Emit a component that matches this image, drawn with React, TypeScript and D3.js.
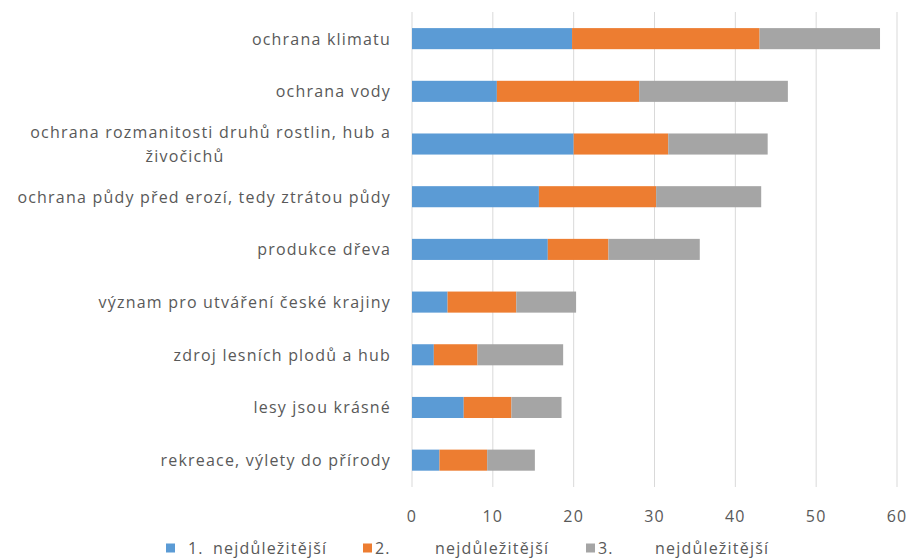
import React from "react";
import * as d3 from "d3";

// categories, top to bottom (multi-line labels split into lines)
const categories = [
  ["ochrana klimatu"],
  ["ochrana vody"],
  ["ochrana rozmanitosti druhů rostlin, hub a", "živočichů"],
  ["ochrana půdy před erozí, tedy ztrátou půdy"],
  ["produkce dřeva"],
  ["význam pro utváření české krajiny"],
  ["zdroj lesních plodů a hub"],
  ["lesy jsou krásné"],
  ["rekreace, výlety do přírody"],
];

const first = [19.8, 10.5, 20.0, 15.7, 16.8, 4.4, 2.7, 6.4, 3.4];
const second = [23.2, 17.6, 11.7, 14.5, 7.5, 8.5, 5.4, 5.9, 5.9];
const third = [14.9, 18.4, 12.3, 13.0, 11.3, 7.4, 10.6, 6.2, 5.9];

const seriesNames = ["1.", "2.", "3."];
const seriesSuffix = ["nejdůležitější", "nejdůležitější", "nejdůležitější"];
const colors = ["#5B9BD5", "#ED7D31", "#A5A5A5"];
const xTicks = [0, 10, 20, 30, 40, 50, 60];

const W = 909;
const H = 560;
const font = "'Open Sans', sans-serif";
const textColor = "#595959";
const fs = 16;
const ls = 1.2;

const App = () => {
  const keys = ["a", "b", "c"];
  const rows = categories.map((c, i) => ({ idx: i, a: first[i], b: second[i], c: third[i] }));
  const stacked = d3.stack<any>().keys(keys)(rows);

  const x = d3.scaleLinear().domain([0, 60]).range([412, 897]);
  const y = d3
    .scaleBand<number>()
    .domain(categories.map((_, i) => i))
    .range([12.3, 486.5])
    .paddingInner(0.6)
    .paddingOuter(0.3);

  // legend layout: square, number, label
  const squareX = [166, 363, 586];
  const numX = [188, 375, 598];
  const suffixX = [213, 435, 655];
  const legendY = 548;

  const textProps = { fontFamily: font, fontSize: fs, fill: textColor, letterSpacing: ls };

  return (
    <svg width={W} height={H} style={{ position: "absolute", left: 0, top: 0, background: "#fff" }}>
      {/* vertical gridlines */}
      {xTicks.map((t) => (
        <line key={t} x1={x(t)} x2={x(t)} y1={12} y2={487} stroke="#D9D9D9" strokeWidth={1} />
      ))}

      {/* stacked bars */}
      {stacked.map((s, si) => (
        <g key={s.key}>
          {s.map((d, i) => (
            <rect
              key={i}
              x={x(d[0])}
              y={y(i)}
              width={x(d[1]) - x(d[0])}
              height={y.bandwidth()}
              fill={colors[si]}
            />
          ))}
        </g>
      ))}

      {/* category labels */}
      {categories.map((lines, i) => {
        const cy = (y(i) as number) + y.bandwidth() / 2;
        if (lines.length === 1) {
          return (
            <text key={i} x={391} y={cy} textAnchor="end" dominantBaseline="central" {...textProps}>
              {lines[0]}
            </text>
          );
        }
        return (
          <g key={i}>
            <text x={391} y={cy - 12} textAnchor="end" dominantBaseline="central" {...textProps}>
              {lines[0]}
            </text>
            <text x={185} y={cy + 12} textAnchor="middle" dominantBaseline="central" {...textProps}>
              {lines[1]}
            </text>
          </g>
        );
      })}

      {/* x tick labels */}
      {xTicks.map((t) => (
        <text key={t} x={x(t)} y={516} textAnchor="middle" dominantBaseline="central" {...textProps}>
          {t}
        </text>
      ))}

      {/* legend */}
      {seriesNames.map((name, i) => (
        <g key={name}>
          <rect x={squareX[i]} y={legendY - 4.5} width={9} height={9} fill={colors[i]} />
          <text x={numX[i]} y={legendY} dominantBaseline="central" {...textProps}>
            {name}
          </text>
          <text x={suffixX[i]} y={legendY} dominantBaseline="central" {...textProps}>
            {seriesSuffix[i]}
          </text>
        </g>
      ))}
    </svg>
  );
};

export default App;
